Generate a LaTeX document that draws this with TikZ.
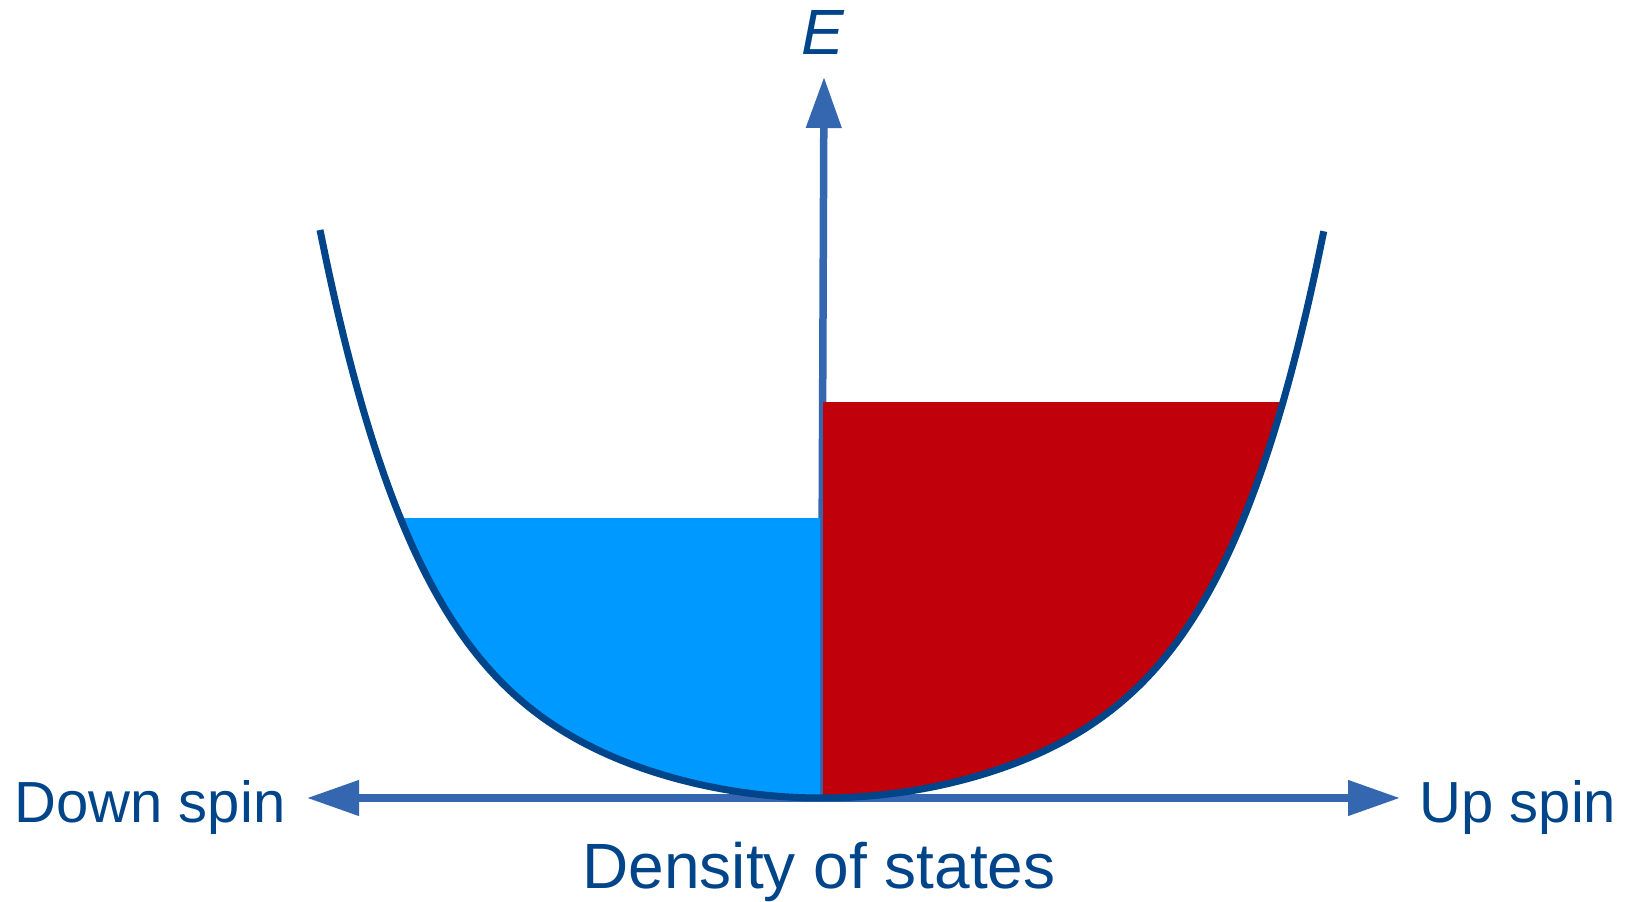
\documentclass[tikz,border=0pt]{standalone}
\usepackage{fontspec}
\setmainfont{Liberation Sans}
\usetikzlibrary{arrows.meta}

\definecolor{dosline}{RGB}{0,68,137}
\definecolor{dosaxis}{RGB}{52,103,176}
\definecolor{spindown}{RGB}{0,153,255}
\definecolor{spinup}{RGB}{192,0,11}

\begin{document}
\begin{tikzpicture}[x = 0.5pt, y = 0.5pt,
    axis/.style = {draw=dosaxis, line width=3.75pt},
    band/.style = {draw=dosline, line width=3.5pt},
    spinlabel/.style = {text=dosline, inner sep=0pt, font=\fontsize{29}{30}\selectfont},
    biglabel/.style = {text=dosline, inner sep=0pt, font=\fontsize{32}{33}\selectfont}]
    \useasboundingbox (0,0) rectangle (1630,901);

    % Axis points
    \coordinate (O) at (821,103);
    \coordinate (T) at (824,824);
    \coordinate (L) at (307,103);
    \coordinate (R) at (1400,103);

    % Axes
    \draw[axis, -{Triangle[length=25.5pt, width=17pt]}] (O) -- (T);
    \draw[axis, {Triangle[length=26pt, width=17pt]}-{Triangle[length=26pt, width=17pt]}] (L) -- (R);

    % Filled states
    \begin{scope}
        \clip plot[domain=-1:1, samples=121, smooth] ({822+502*\x}, {103+568*(0.40*\x*\x+0.60*\x*\x*\x*\x*\x*\x)}) -- cycle;
        \fill[spindown] (300,90) rectangle (820,383);
        \fill[spinup] (823,90) rectangle (1400,499);
    \end{scope}

    % Density of states curve
    \draw[band] plot[domain=-1:1, samples=121, smooth] ({822+502*\x}, {103+568*(0.40*\x*\x+0.60*\x*\x*\x*\x*\x*\x)});

    % Labels
    \node[biglabel, anchor=base] (E) at (823,846) {\textit{E}};
    \node[spinlabel, anchor=base] (down) at (150,79) {Down spin};
    \node[spinlabel, anchor=base] (up) at (1518,79) {Up spin};
    \node[biglabel, anchor=base] (dos) at (819,13) {Density of states};
\end{tikzpicture}
\end{document}
